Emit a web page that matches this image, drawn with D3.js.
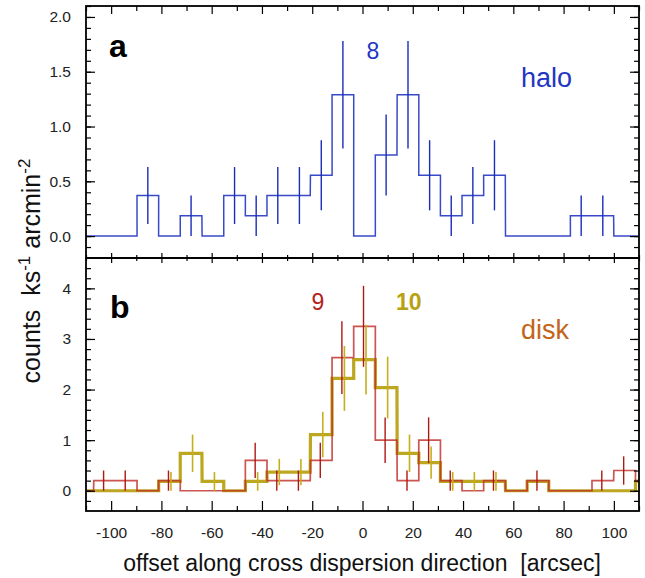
<!DOCTYPE html>
<html>
<head>
<meta charset="utf-8">
<script src="https://cdn.jsdelivr.net/npm/d3@7/dist/d3.min.js"></script>
<style>
  html, body { margin: 0; padding: 0; background: #fff; }
  svg { display: block; font-family: "Liberation Sans", Arial, Helvetica, sans-serif; }
  text { white-space: pre; }
</style>
</head>
<body>
<svg id="chart" width="645" height="578"></svg>
<script>
// Cross-dispersion profiles: bin centres (arcsec) and surface brightness per bin
const binCenters = [-111.3, -102.6, -94.0, -85.4, -76.8, -68.2, -59.5, -50.9, -42.3,
                    -33.7, -25.1, -16.4, -7.8, 0.8, 9.4, 18.1, 26.7, 35.3,
                    43.9, 52.5, 61.2, 69.8, 78.4, 87.0, 95.6, 104.3, 112.9];
const binWidth = 8.62;

// Panel a: halo (observation 8)
const haloValues = [0, 0, 0, 0.37, 0, 0.185, 0, 0.37, 0.185,
                    0.37, 0.37, 0.555, 1.29, 0, 0.74, 1.29, 0.555, 0.185,
                    0.37, 0.555, 0, 0, 0, 0.185, 0.185, 0, 0];
const haloErrors = [0, 0, 0, 0.26, 0, 0.185, 0, 0.26, 0.185,
                    0.26, 0.26, 0.32, 0.49, 0, 0.37, 0.49, 0.32, 0.185,
                    0.26, 0.32, 0, 0, 0, 0.185, 0.185, 0, 0];

// Panel b: disk (observations 9 and 10)
const disk9Values = [0, 0.2, 0.2, 0, 0.2, 0, 0, 0, 0.6,
                     0.2, 0.2, 0.6, 2.63, 3.25, 1.0, 0.2, 1.0, 0.2,
                     0, 0.2, 0, 0.2, 0, 0, 0.2, 0.4, 0.2];
const disk9Errors = [0, 0.2, 0.2, 0, 0.2, 0, 0, 0, 0.35,
                     0.2, 0.2, 0.35, 0.72, 0.8, 0.45, 0.2, 0.45, 0.2,
                     0, 0.2, 0, 0.2, 0, 0, 0.2, 0.28, 0];
const disk10Values = [0, 0, 0, 0, 0.185, 0.74, 0.185, 0, 0.185,
                      0.37, 0.37, 1.11, 2.22, 2.59, 2.04, 0.74, 0.555, 0.185,
                      0.185, 0.185, 0, 0.185, 0, 0, 0, 0, 0.185];
const disk10Errors = [0, 0, 0, 0, 0.185, 0.37, 0.185, 0, 0.185,
                      0.26, 0.26, 0.45, 0.64, 0.69, 0.61, 0.37, 0.32, 0.185,
                      0.185, 0.185, 0, 0, 0, 0, 0, 0, 0];

// Axis ticks
const xMajorTicks = [-100, -80, -60, -40, -20, 0, 20, 40, 60, 80, 100];
const xMinorTicks = [-110, -90, -70, -50, -30, -10, 10, 30, 50, 70, 90, 110];
const haloTicks = [0.0, 0.5, 1.0, 1.5, 2.0];
const haloTickLabels = ["0.0", "0.5", "1.0", "1.5", "2.0"];
const diskTicks = [0, 1, 2, 3, 4];
const diskTickLabels = ["0", "1", "2", "3", "4"];

const svg = d3.select("#chart");
const left = 86, right = 639;
const topA = 6, midY = 258, botB = 511;

const x = d3.scaleLinear().domain([-110, 110]).range([left, right]);
const yA = d3.scaleLinear().domain([-0.2, 2.1]).range([midY, topA]);
const yB = d3.scaleLinear().domain([-0.4, 4.6]).range([botB, midY]);

const minorRange = (lo, hi, step) => {
  const out = [];
  for (let v = lo; v <= hi + 1e-9; v += step) out.push(+v.toFixed(3));
  return out;
};

svg.append("defs").append("clipPath").attr("id", "clipA")
  .append("rect").attr("x", left).attr("y", topA).attr("width", right - left).attr("height", midY - topA);
svg.select("defs").append("clipPath").attr("id", "clipB")
  .append("rect").attr("x", left).attr("y", midY).attr("width", right - left).attr("height", botB - midY);

function stepPoints(values) {
  const pts = [];
  values.forEach((v, i) => {
    pts.push([binCenters[i] - binWidth / 2, v]);
    pts.push([binCenters[i] + binWidth / 2, v]);
  });
  return pts;
}

function drawHist(g, y, values, color, width, opacity) {
  const line = d3.line().x(d => x(d[0])).y(d => y(d[1]));
  g.append("path")
    .attr("d", line(stepPoints(values)))
    .attr("fill", "none")
    .attr("stroke", color)
    .attr("stroke-width", width)
    .attr("stroke-opacity", opacity)
    .attr("stroke-linejoin", "miter");
}

function drawErrors(g, y, values, errors, color, width, dx) {
  const idx = values.map((v, i) => i).filter(i => errors[i] > 0);
  g.selectAll(null).data(idx).enter().append("line")
    .attr("x1", i => x(binCenters[i]) + dx)
    .attr("x2", i => x(binCenters[i]) + dx)
    .attr("y1", i => y(values[i] + errors[i]))
    .attr("y2", i => y(Math.max(0, values[i] - errors[i])))
    .attr("stroke", color)
    .attr("stroke-width", width);
}

// Panel a
const gA = svg.append("g").attr("clip-path", "url(#clipA)");
drawHist(gA, yA, haloValues, "#2236c2", 1.5, 0.9);
drawErrors(gA, yA, haloValues, haloErrors, "#1b2cb8", 1.4, 0);

// Panel b
const gB = svg.append("g").attr("clip-path", "url(#clipB)");
drawHist(gB, yB, disk10Values, "#b9a114", 3.2, 0.95);
drawHist(gB, yB, disk9Values, "#bf3029", 1.7, 0.82);
drawErrors(gB, yB, disk10Values, disk10Errors, "#c6ae1c", 1.6, 1.5);
drawErrors(gB, yB, disk9Values, disk9Errors, "#ae1812", 1.4, -1);

// Axes
function styleAxis(sel) {
  sel.select(".domain").remove();
  sel.selectAll(".tick line").attr("stroke", "#000").attr("stroke-width", 1.2);
  sel.selectAll(".tick text").attr("fill", "#222").style("font-size", "15.5px")
    .style("font-family", "'Liberation Sans', Arial, sans-serif");
  return sel;
}
const noLabel = () => "";

// x ticks: top of a, both sides of the shared boundary, bottom of b
[[d3.axisBottom, topA, 8, 5], [d3.axisTop, midY, 5, 3], [d3.axisBottom, midY, 5, 3], [d3.axisTop, botB, 10, 5]]
  .forEach(([axisFn, yPos, majLen, minLen]) => {
    svg.append("g").attr("transform", `translate(0,${yPos})`)
      .call(axisFn(x).tickValues(xMajorTicks).tickSize(majLen).tickFormat(noLabel)).call(styleAxis);
    svg.append("g").attr("transform", `translate(0,${yPos})`)
      .call(axisFn(x).tickValues(xMinorTicks).tickSize(minLen).tickFormat(noLabel)).call(styleAxis);
  });

// x tick labels
svg.append("g").attr("transform", `translate(0,${botB})`)
  .call(d3.axisBottom(x).tickValues(xMajorTicks).tickSize(0).tickPadding(16).tickFormat(d => String(d)))
  .call(styleAxis);

// y axes panel a
svg.append("g").attr("transform", `translate(${left},0)`)
  .call(d3.axisLeft(yA).tickValues(haloTicks).tickSize(-9).tickPadding(15)
    .tickFormat((d, i) => haloTickLabels[i])).call(styleAxis);
svg.append("g").attr("transform", `translate(${left},0)`)
  .call(d3.axisLeft(yA).tickValues(minorRange(-0.1, 2.1, 0.1)).tickSize(-5).tickFormat(noLabel)).call(styleAxis);
svg.append("g").attr("transform", `translate(${right},0)`)
  .call(d3.axisRight(yA).tickValues(haloTicks).tickSize(-9).tickFormat(noLabel)).call(styleAxis);
svg.append("g").attr("transform", `translate(${right},0)`)
  .call(d3.axisRight(yA).tickValues(minorRange(-0.1, 2.1, 0.1)).tickSize(-5).tickFormat(noLabel)).call(styleAxis);

// y axes panel b
svg.append("g").attr("transform", `translate(${left},0)`)
  .call(d3.axisLeft(yB).tickValues(diskTicks).tickSize(-9).tickPadding(15)
    .tickFormat((d, i) => diskTickLabels[i])).call(styleAxis);
svg.append("g").attr("transform", `translate(${left},0)`)
  .call(d3.axisLeft(yB).tickValues(minorRange(-0.2, 4.4, 0.2)).tickSize(-5).tickFormat(noLabel)).call(styleAxis);
svg.append("g").attr("transform", `translate(${right},0)`)
  .call(d3.axisRight(yB).tickValues(diskTicks).tickSize(-9).tickFormat(noLabel)).call(styleAxis);
svg.append("g").attr("transform", `translate(${right},0)`)
  .call(d3.axisRight(yB).tickValues(minorRange(-0.2, 4.4, 0.2)).tickSize(-5).tickFormat(noLabel)).call(styleAxis);

// Frames
svg.append("rect").attr("x", left).attr("y", topA).attr("width", right - left).attr("height", midY - topA)
  .attr("fill", "none").attr("stroke", "#000").attr("stroke-width", 1.8);
svg.append("rect").attr("x", left).attr("y", midY).attr("width", right - left).attr("height", botB - midY)
  .attr("fill", "none").attr("stroke", "#000").attr("stroke-width", 1.8);

// Panel annotations
const ann = (txt, xp, yp, size, color, weight, anchor) =>
  svg.append("text").attr("x", xp).attr("y", yp).attr("fill", color)
    .attr("text-anchor", anchor || "start")
    .style("font-size", size + "px").style("font-weight", weight || "normal").text(txt);

ann("a", 109, 57, 32, "#000", "bold");
ann("8", 373, 59, 23, "#2236c2", "normal", "middle");
ann("halo", 521, 87, 27, "#2236c2");
ann("b", 110, 318, 32, "#000", "bold");
ann("9", 318, 310, 23, "#b5221a", "normal", "middle");
ann("10", 396, 310, 23, "#b9a114", "bold");
ann("disk", 521, 339, 27, "#c2651a");

// Axis titles
svg.append("text").attr("x", 362).attr("y", 571).attr("text-anchor", "middle")
  .attr("fill", "#111").style("font-size", "23px")
  .text("offset along cross dispersion direction  [arcsec]");

const yt = svg.append("text").attr("transform", "translate(40,271) rotate(-90)")
  .attr("text-anchor", "middle").attr("fill", "#111").style("font-size", "25px");
yt.append("tspan").text("counts  ks");
yt.append("tspan").attr("dy", -10).style("font-size", "17px").text("-1");
yt.append("tspan").attr("dy", 10).text(" arcmin");
yt.append("tspan").attr("dy", -10).style("font-size", "17px").text("-2");
</script>
</body>
</html>
